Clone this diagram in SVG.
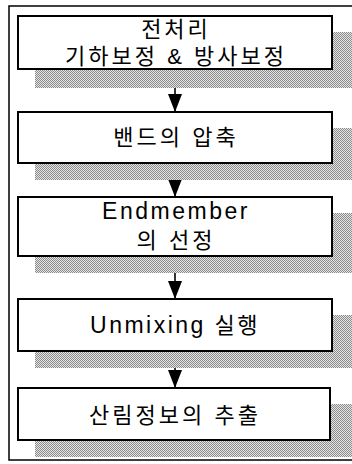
<svg xmlns="http://www.w3.org/2000/svg" width="352" height="464" viewBox="0 0 352 464">
<defs>
<pattern id="dots" width="2" height="2" patternUnits="userSpaceOnUse">
<rect width="2" height="2" fill="#e4e4e4"/>
<rect width="1" height="1" fill="#8c8c8c"/>
<rect x="1" y="1" width="1" height="1" fill="#8c8c8c"/>
</pattern>
<marker id="ah" markerUnits="userSpaceOnUse" markerWidth="18" markerHeight="14" refX="18" refY="7" orient="auto">
<path d="M0,0 L18,7 L0,14 Z" fill="#000"/>
</marker>
<style>
.box{fill:#fff;stroke:#000;stroke-width:2}
.sh{fill:url(#dots)}
.t{font-family:"Liberation Sans","Noto Sans CJK KR",sans-serif;font-size:22px;fill:#000;text-anchor:middle;letter-spacing:3px}
.l{font-size:23px;letter-spacing:2.5px}
.c{stroke:#000;stroke-width:1.6;fill:none}
</style>
</defs>
<rect x="9" y="6" width="360" height="454" fill="#fff" stroke="#000" stroke-width="1.5"/>
<g id="connectors">
<line class="c" x1="175" y1="69" x2="175" y2="112" marker-end="url(#ah)"/>
<line class="c" x1="175" y1="163" x2="175" y2="197" marker-end="url(#ah)"/>
<line class="c" x1="175" y1="256" x2="175" y2="299" marker-end="url(#ah)"/>
<line class="c" x1="175" y1="351" x2="175" y2="388" marker-end="url(#ah)"/>
</g>
<g id="n1">
<rect class="sh" x="35" y="32" width="318" height="56"/>
<rect class="box" x="18" y="16" width="314" height="53"/>
<text class="t" x="176" y="37">전처리</text>
<text class="t" x="176" y="64">기하보정 &amp; 방사보정</text>
</g>
<g id="n2">
<rect class="sh" x="35" y="128" width="318" height="52"/>
<rect class="box" x="18" y="112" width="314" height="51"/>
<text class="t" x="176" y="145">밴드의 압축</text>
</g>
<g id="n3">
<rect class="sh" x="35" y="213" width="318" height="60"/>
<rect class="box" x="18" y="197" width="314" height="59"/>
<text class="t l" x="176" y="219">Endmember</text>
<text class="t" x="176" y="248">의 선정</text>
</g>
<g id="n4">
<rect class="sh" x="35" y="315" width="318" height="53"/>
<rect class="box" x="18" y="299" width="314" height="52"/>
<text class="t" x="175" y="333" style="letter-spacing:2.5px"><tspan style="font-size:23px">Unmixing</tspan> 실행</text>
</g>
<g id="n5">
<rect class="sh" x="35" y="404" width="318" height="53"/>
<rect class="box" x="18" y="388" width="312" height="52"/>
<text class="t" x="175" y="423">산림정보의 추출</text>
</g>
</svg>
